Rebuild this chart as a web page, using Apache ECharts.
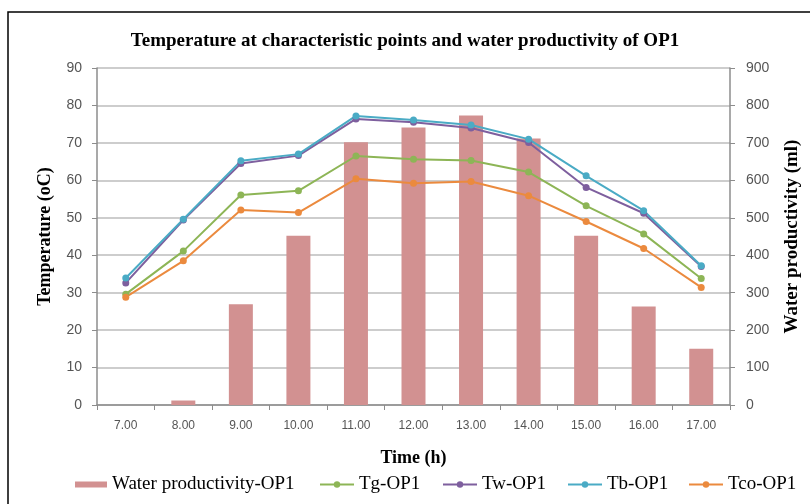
<!DOCTYPE html>
<html><head><meta charset="utf-8">
<script src="https://cdn.jsdelivr.net/npm/echarts@6/dist/echarts.min.js"></script>
<style>html,body{margin:0;padding:0;background:#fff}#c{width:810px;height:504px}</style>
</head><body><div id="c"></div>
<script>
var categories = ['7.00','8.00','9.00','10.00','11.00','12.00','13.00','14.00','15.00','16.00','17.00'];
var waterProd = [0, 12, 269, 452, 702, 741, 773, 712, 452, 263, 150];
var tg  = [29.6, 41.1, 56.1, 57.2, 66.5, 65.6, 65.3, 62.2, 53.2, 45.7, 33.8];
var tw  = [32.6, 49.4, 64.5, 66.6, 76.4, 75.5, 74.0, 70.1, 58.1, 51.2, 37.0];
var tb  = [33.9, 49.6, 65.2, 67.0, 77.2, 76.1, 74.8, 71.0, 61.2, 51.9, 37.2];
var tco = [28.8, 38.5, 52.1, 51.4, 60.4, 59.2, 59.7, 55.9, 49.0, 41.8, 31.4];

var serif = '"Liberation Serif","Times New Roman",serif';
var sans = '"Liberation Sans",Arial,sans-serif';
var chart = echarts.init(document.getElementById('c'));
function lineSeries(name, data, color){
  return {name:name, type:'line', yAxisIndex:0, data:data, symbol:'circle', symbolSize:7,
    lineStyle:{color:color,width:2}, itemStyle:{color:color}, z:3};
}
var legTxt = {fontFamily:serif, fontSize:19, color:'#000'};
function leg(name, left){
  return {data:[name], left:left, top:470, itemWidth:34, itemHeight:8, textStyle:legTxt};
}
chart.setOption({
  animation:false,
  graphic:[{type:'rect', shape:{x:8,y:12,width:820,height:520}, style:{fill:'none',stroke:'#000',lineWidth:1.5}}],
  title:{text:'Temperature at characteristic points and water productivity of OP1', left:'center', top:27,
    textStyle:{fontFamily:serif, fontWeight:'bold', fontSize:19, color:'#000'}},
  grid:{left:97, right:80, top:68, bottom:99, outerBoundsMode:'none', containLabel:false},
  legend:[
    {data:['Water productivity-OP1'], left:70, top:470, itemWidth:32, itemHeight:6, icon:'rect', textStyle:legTxt},
    leg('Tg-OP1', 314), leg('Tw-OP1', 437), leg('Tb-OP1', 562), leg('Tco-OP1', 683)
  ],
  xAxis:{type:'category', data:categories, boundaryGap:true,
    name:'Time (h)', nameLocation:'middle', nameGap:44,
    nameTextStyle:{fontFamily:serif, fontWeight:'bold', fontSize:18, color:'#000'},
    axisLine:{lineStyle:{color:'#8c8c8c', width:1.5}}, axisTick:{show:true, length:5, lineStyle:{color:'#8c8c8c'}},
    axisLabel:{fontFamily:sans, fontSize:12, color:'#555', margin:15}},
  yAxis:[
    {type:'value', min:0, max:90, interval:10, position:'left',
      name:'Temperature (oC)', nameLocation:'middle', nameGap:43, nameRotate:90,
      nameTextStyle:{fontFamily:serif, fontWeight:'bold', fontSize:18, color:'#000'},
      axisLine:{show:true, lineStyle:{color:'#8c8c8c', width:1.5}}, axisTick:{show:true, length:5, lineStyle:{color:'#8c8c8c'}},
      axisLabel:{fontFamily:sans, fontSize:14, color:'#555', margin:15},
      splitLine:{lineStyle:{color:'#bdbdbd', width:1.5}}},
    {type:'value', min:0, max:900, interval:100, position:'right',
      name:'Water productivity (ml)', nameLocation:'middle', nameGap:53, nameRotate:90,
      nameTextStyle:{fontFamily:serif, fontWeight:'bold', fontSize:19, color:'#000'},
      axisLine:{show:true, lineStyle:{color:'#8c8c8c', width:1.5}}, axisTick:{show:true, length:5, lineStyle:{color:'#8c8c8c'}},
      axisLabel:{fontFamily:sans, fontSize:14, color:'#555', margin:16},
      splitLine:{show:false}}
  ],
  series:[
    {name:'Water productivity-OP1', type:'bar', yAxisIndex:1, data:waterProd, barWidth:24,
      itemStyle:{color:'#d29191'}, z:2},
    lineSeries('Tg-OP1', tg, '#8db556'),
    lineSeries('Tw-OP1', tw, '#7e5f9e'),
    lineSeries('Tb-OP1', tb, '#4aabc5'),
    lineSeries('Tco-OP1', tco, '#eb8a3e')
  ]
});
</script></body></html>
